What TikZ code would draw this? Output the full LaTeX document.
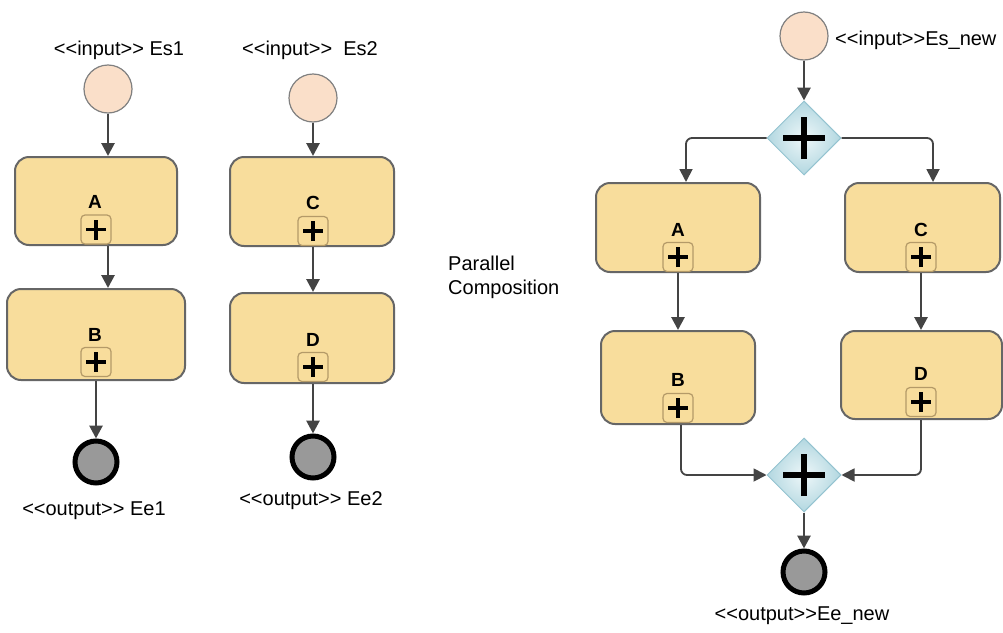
\documentclass[tikz,border=0pt]{standalone}
\usepackage{fontspec}
\setmainfont{Liberation Sans}
\usetikzlibrary{arrows.meta,shapes.geometric}
\definecolor{boxfill}{HTML}{F8DD9C}
\definecolor{boxborder}{HTML}{666666}
\definecolor{plusborder}{HTML}{B49A68}
\definecolor{startfill}{HTML}{FADFC9}
\definecolor{startborder}{HTML}{808080}
\definecolor{endfill}{HTML}{999999}
\definecolor{flowc}{HTML}{444444}
\definecolor{gwin}{HTML}{EEF7F9}
\definecolor{gwout}{HTML}{B2D7E0}
\definecolor{gwborder}{HTML}{94C3D0}
\tikzset{
  task/.style={draw=boxborder, line width=2pt, fill=boxfill, rounded corners=14pt, inner sep=0pt},
  startev/.style={circle, draw=startborder, line width=1.2pt, fill=startfill, minimum size=48pt, inner sep=0pt},
  endev/.style={circle, draw=black, line width=5pt, fill=endfill, minimum size=42pt, inner sep=0pt},
  flow/.style={draw=flowc, line width=2.8pt, -{Triangle[length=13pt,width=13pt]}},
  thinflow/.style={draw=flowc, line width=1.8pt, rounded corners=6pt, -{Triangle[length=13pt,width=13pt]}},
  lbl/.style={font=\fontsize{20}{24}\selectfont, inner sep=0pt},
  tlabel/.style={font=\bfseries\fontsize{19}{24}\selectfont, inner sep=0pt},
  plusbox/.style={rectangle, rounded corners=4pt, draw=plusborder, line width=1.2pt, fill=boxfill,
    minimum width=30pt, minimum height=29pt, inner sep=0pt,
    path picture={
      \draw[line width=3.2pt,black] ([xshift=-10pt]path picture bounding box.center) -- ([xshift=10pt]path picture bounding box.center);
      \draw[line width=3.2pt,black] ([yshift=-10pt]path picture bounding box.center) -- ([yshift=10pt]path picture bounding box.center);
    }},
  gateway/.style={diamond, draw=gwborder, line width=1pt, shading=radial, inner color=gwin, outer color=gwout,
    minimum width=74pt, minimum height=74pt, inner sep=0pt,
    path picture={
      \draw[line width=5.5pt,black] ([xshift=-21pt]path picture bounding box.center) -- ([xshift=21pt]path picture bounding box.center);
      \draw[line width=5.5pt,black] ([yshift=-21pt]path picture bounding box.center) -- ([yshift=21pt]path picture bounding box.center);
    }},
}
\begin{document}
\begin{tikzpicture}[x=1pt,y=-1pt]
\useasboundingbox[fill=white] (0,0) rectangle (1003,632);

% ---------- process 1 ----------
\node[lbl, anchor=base] (les1) at (119,55) {<{}<input>{}> Es1};
\node[startev] (es1) at (108,89) {};
\node[task, minimum width=162pt, minimum height=88pt] (a1) at (96,201) {};
\node[tlabel] (la1) at (95,202) {A};
\node[plusbox] (pa1) at (96,229.5) {};
\node[task, minimum width=178pt, minimum height=91pt] (b1) at (96,334.5) {};
\node[tlabel] (lb1) at (95,335) {B};
\node[plusbox] (pb1) at (96,362) {};
\node[endev] (ee1) at (96,462) {};
\node[lbl, anchor=base] (lee1) at (94,515) {<{}<output>{}> Ee1};
\draw[flow] (es1) -- (es1 |- a1.north);
\draw[flow] (a1.south -| es1) -- (es1 |- b1.north);
\draw[flow] (b1.south) -- (ee1.north);

% ---------- process 2 ----------
\node[lbl, anchor=base] (les2) at (310,55) {<{}<input>{}>\ \ Es2};
\node[startev] (es2) at (313,98) {};
\node[task, minimum width=164pt, minimum height=89pt] (c2) at (312,201.5) {};
\node[tlabel] (lc2) at (313,203) {C};
\node[plusbox] (pc2) at (313,231) {};
\node[task, minimum width=164pt, minimum height=90pt] (d2) at (312,338) {};
\node[tlabel] (ld2) at (313,340) {D};
\node[plusbox] (pd2) at (313,367) {};
\node[endev] (ee2) at (313,457) {};
\node[lbl, anchor=base] (lee2) at (311,505) {<{}<output>{}> Ee2};
\draw[flow] (es2) -- (es2 |- c2.north);
\draw[flow] (c2.south -| es2) -- (es2 |- d2.north);
\draw[flow] (d2.south -| es2) -- (ee2.north);

% ---------- caption ----------
\node[lbl, anchor=base west, align=left] (cap) at (448,294) {Parallel\\Composition};

% ---------- composed process ----------
\node[startev] (esn) at (804,36) {};
\node[lbl, anchor=base west] (lesn) at (835,45) {<{}<input>{}>Es\_new};
\node[gateway] (g1) at (804,138) {};
\node[task, minimum width=164pt, minimum height=89pt] (a3) at (678,227.5) {};
\node[tlabel] (la3) at (678,230) {A};
\node[plusbox] (pa3) at (678,257) {};
\node[task, minimum width=154pt, minimum height=93pt] (b3) at (678,377.5) {};
\node[tlabel] (lb3) at (678,380) {B};
\node[plusbox] (pb3) at (678,408) {};
\node[task, minimum width=155pt, minimum height=89pt] (c3) at (922.5,227.5) {};
\node[tlabel] (lc3) at (921,230) {C};
\node[plusbox] (pc3) at (921,257) {};
\node[task, minimum width=161pt, minimum height=88pt] (d3) at (921.5,375) {};
\node[tlabel] (ld3) at (921,374) {D};
\node[plusbox] (pd3) at (921,402) {};
\node[gateway] (g2) at (804,475) {};
\node[endev] (een) at (804,572) {};
\node[lbl, anchor=base] (leen) at (802,620) {<{}<output>{}>Ee\_new};

\draw[flow] (esn) -- (g1.north);
\draw[thinflow] (g1.west) -| ([xshift=8pt]a3.north);
\draw[thinflow] (g1.east) -| ([xshift=10.5pt]c3.north);
\draw[flow] (a3.south) -- (b3.north);
\draw[flow] (c3.south -| pc3) -- (d3.north -| pc3);
\draw[thinflow] ([xshift=3pt]b3.south) |- (g2.west);
\draw[thinflow] (d3.south -| pd3) |- (g2.east);
\draw[flow] (g2.south) -- (een.north);
\end{tikzpicture}
\end{document}
